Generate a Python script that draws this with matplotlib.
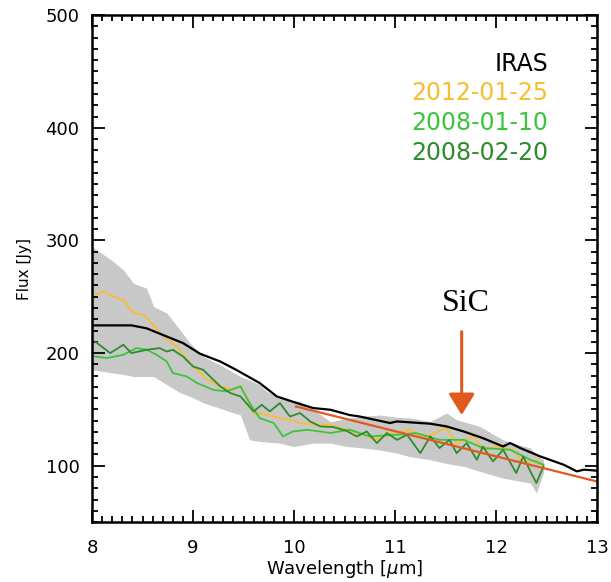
import matplotlib.pyplot as plt
from matplotlib.ticker import MultipleLocator

# IRAS spectrum
iras_x = [8.01, 8.39, 8.54, 8.74, 8.90, 9.07, 9.27, 9.43, 9.66, 9.83, 10.03, 10.19,
          10.36, 10.55, 10.65, 10.95, 11.02, 11.35, 11.51, 11.68, 11.87, 12.07,
          12.14, 12.24, 12.44, 12.67, 12.80, 12.87, 12.96, 13.0]
iras_y = [224.6, 224.6, 222, 214.7, 208.9, 199.4, 192.5, 185, 173.4, 161.5, 155.6, 151.2,
          149.7, 145, 143.7, 137.9, 139.3, 137.3, 134.9, 130.4, 124.5, 117.1,
          120.1, 115.7, 108.2, 100.9, 95, 96.5, 95.9, 95.5]

# grey uncertainty band
band_x = [8.0, 8.21, 8.31, 8.41, 8.54, 8.61, 8.74, 8.87, 8.97, 9.10, 9.30, 9.47, 9.56,
          9.66, 9.73, 9.86, 9.99, 10.06, 10.19, 10.36, 10.52, 10.69, 10.85, 11.02,
          11.15, 11.35, 11.51, 11.61, 11.68, 11.84, 12.01, 12.07, 12.34, 12.40, 12.47]
band_hi = [294.6, 281.3, 273.9, 262, 257.7, 241.4, 235.5, 220.7, 208.9, 197, 188, 179.2,
           176, 171.9, 166, 160, 158, 157, 150, 139, 142, 144, 145, 143,
           142.3, 139.3, 146.8, 140.8, 139, 134.9, 126, 123, 115.7, 110, 105.3]
band_lo = [185.2, 182.3, 181, 179.2, 179.2, 179.2, 172, 165, 161.5, 156, 150, 145, 123,
           121.6, 121, 120.1, 117.1, 118, 120.1, 120.1, 117.1, 115.7, 114, 111.2,
           108, 105.3, 102, 100.5, 99.4, 95, 90.5, 89, 84.6, 75.8, 93.5]

# 2012-01-25
y12_x = [8.03, 8.11, 8.21, 8.31, 8.41, 8.51, 8.59, 8.71, 8.84, 8.94, 9.04, 9.14, 9.27,
         9.40, 9.47, 9.53, 9.60, 9.73, 9.86, 9.96, 10.06, 10.19, 10.36, 10.52, 10.69,
         10.79, 10.95, 11.15, 11.28, 11.51, 11.61, 11.78, 11.87, 12.01, 12.17, 12.27,
         12.40, 12.47]
y12_y = [251.7, 254.7, 250.2, 247.3, 235.5, 234, 226.6, 214.7, 205.9, 194, 185.2, 176.3,
         170.4, 167.4, 170.4, 161.5, 146.8, 145.3, 142.3, 140.8, 137.9, 136.4, 136.4,
         131.9, 127.5, 123, 128, 132, 124.5, 133.5, 120.1, 126, 114.2, 117.1, 114.2,
         102.4, 105.3, 99.4]

# 2008-01-10
g1_x = [8.03, 8.15, 8.31, 8.44, 8.54, 8.64, 8.74, 8.80, 8.94, 9.04, 9.20, 9.33, 9.47,
        9.56, 9.66, 9.80, 9.89, 9.99, 10.13, 10.26, 10.36, 10.55, 10.75, 11.02, 11.21,
        11.44, 11.68, 11.87, 12.14, 12.34, 12.47]
g1_y = [197, 195.6, 198.5, 204.4, 203, 198.5, 192.5, 182.3, 179.2, 173.4, 167.4, 165.9,
        170.4, 155.6, 142.3, 137.9, 126, 130.4, 131.9, 130.4, 129, 132, 126, 127.5, 129,
        123, 123, 115.7, 114.2, 105.3, 100.9]

# 2008-02-20
g2_x = [8.03, 8.18, 8.31, 8.39, 8.54, 8.67, 8.74, 8.80, 8.90, 9.00, 9.10, 9.27, 9.37,
        9.47, 9.60, 9.68, 9.76, 9.86, 9.96, 10.06, 10.16, 10.26, 10.39, 10.52, 10.62,
        10.72, 10.82, 10.92, 11.02, 11.12, 11.25, 11.35, 11.44, 11.54, 11.61, 11.71,
        11.81, 11.87, 11.97, 12.07, 12.20, 12.27, 12.34, 12.40, 12.47]
g2_y = [210.3, 200, 207.4, 200, 202.9, 204.4, 201.4, 202.9, 197, 188.1, 185.2, 170.4,
        164.5, 161.5, 148.2, 154.1, 148.2, 155.6, 143.7, 146.8, 139.3, 134.9, 134.3,
        131, 126, 130.4, 120.1, 129, 123, 127.5, 111.2, 126, 115.7, 123, 111.2, 120.1,
        105.3, 117.1, 103.8, 114.2, 93.5, 108.2, 95, 84.6, 99.4]

# continuum fit
fit_x = [10.02, 13.0]
fit_y = [152.6, 86.0]

labels = ['IRAS', '2012-01-25', '2008-01-10', '2008-02-20']
colors = ['black', '#f9bd2f', '#3cc43c', '#2e8b2e']

fig = plt.figure(figsize=(6.11, 5.82), dpi=100)
ax = fig.add_axes([0.1506, 0.103, 0.8265, 0.871])

ax.fill_between(band_x, band_lo, band_hi, color='#c8c8c8', lw=0)
ax.plot(y12_x, y12_y, color=colors[1], lw=1.3)
ax.plot(g1_x, g1_y, color=colors[2], lw=1.3)
ax.plot(g2_x, g2_y, color=colors[3], lw=1.3)
ax.plot(iras_x, iras_y, color=colors[0], lw=1.6)
ax.plot(fit_x, fit_y, color='#e05a1e', lw=1.6)

# SiC arrow
ax.annotate('', xy=(11.66, 145), xytext=(11.66, 219),
            arrowprops=dict(arrowstyle='-|>,head_width=0.8,head_length=1.3',
                            color='#e05a1e', lw=2.2, shrinkA=0, shrinkB=0))
ax.text(11.70, 244, 'SiC', family='Liberation Serif', fontsize=23,
        ha='center', va='center')

for i, (lab, c) in enumerate(zip(labels, colors)):
    ax.text(12.52, 457 - i * 26.5, lab, color=c, fontsize=17, ha='right', va='center')

ax.set_xlim(8, 13)
ax.set_ylim(50, 500)
ax.xaxis.set_major_locator(MultipleLocator(1))
ax.xaxis.set_minor_locator(MultipleLocator(0.1))
ax.yaxis.set_major_locator(MultipleLocator(100))
ax.yaxis.set_minor_locator(MultipleLocator(10))
ax.tick_params(which='both', direction='in', top=True, right=True, width=1.3,
               labelsize=13, pad=9)
ax.tick_params(axis='x', pad=12)
ax.tick_params(which='major', length=9)
ax.tick_params(which='minor', length=4.5)
for s in ax.spines.values():
    s.set_linewidth(1.8)

ax.set_xlabel('Wavelength [$\\mu$m]', fontsize=13, labelpad=1)
ax.set_ylabel('Flux [Jy]', fontsize=11, labelpad=10)

fig.savefig('out.png', dpi=100)
